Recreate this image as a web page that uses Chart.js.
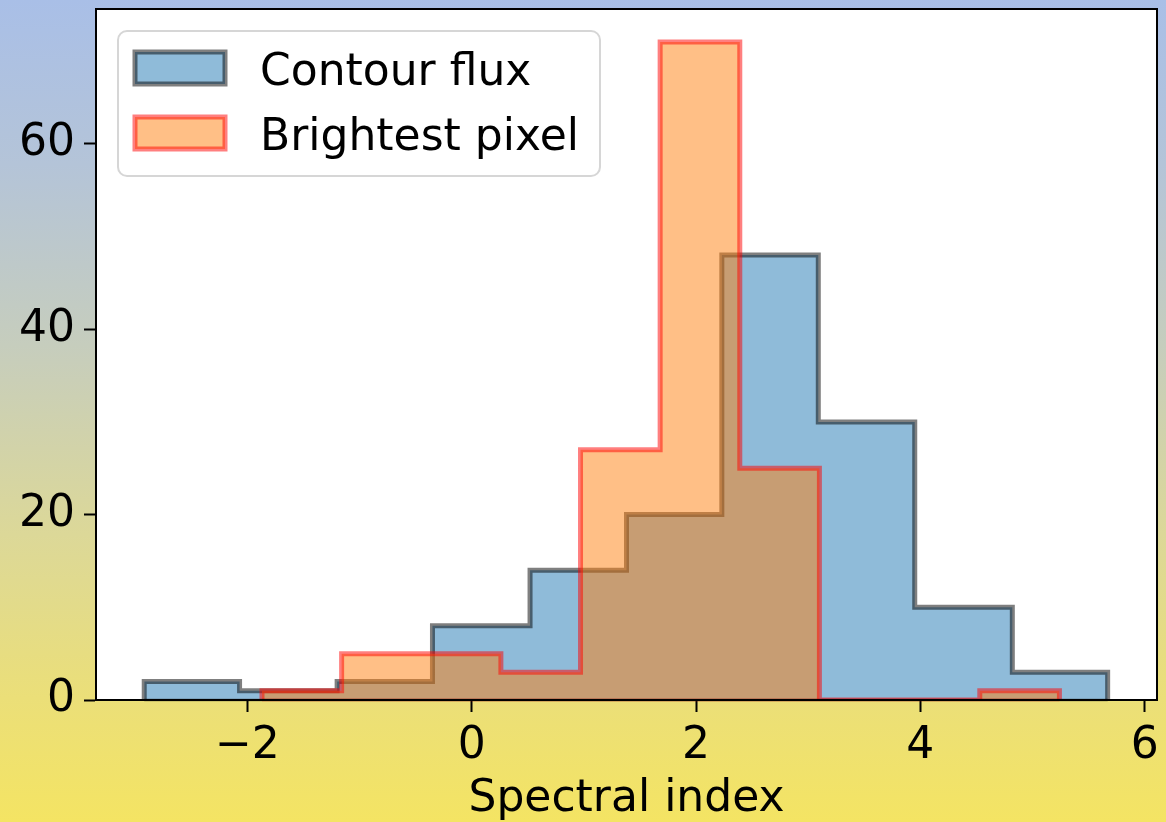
<!DOCTYPE html>
<html lang="en">
<head>
<meta charset="UTF-8">
<title>Spectral index histogram</title>
<script src="https://cdn.jsdelivr.net/npm/chart.js"></script>
<style>
  html, body { margin: 0; padding: 0; }
  body {
    width: 1166px;
    height: 822px;
    overflow: hidden;
    background: linear-gradient(to bottom, #a9bfe7 0%, #b4c4d8 20%, #c6cdbd 42%, #dcd898 65%, #ebdf78 85%, #f4e463 100%);
  }
</style>
</head>
<body>
<canvas id="histChart" width="1166" height="822"></canvas>

<script>
// bin edges and counts
const contourEdges = [-2.92, -2.07, -1.20, -0.35, 0.52, 1.38, 2.23, 3.09, 3.95, 4.82, 5.67];
const contourCounts = [2, 1, 2, 8, 14, 20, 48, 30, 10, 3];

const brightEdges = [-1.87, -1.16, -0.46, 0.26, 0.97, 1.68, 2.39, 3.10, 3.82, 4.53, 5.24];
const brightCounts = [1, 5, 5, 3, 27, 71, 25, 0, 0, 1];

const seriesLabels = ["Contour flux", "Brightest pixel"];
const xTicks = [-2, 0, 2, 4, 6];
const yTicks = [0, 20, 40, 60];
const xRange = [-3.35, 6.11];
const yRange = [0, 74.55];
const axisTitle = "Spectral index";

const FONT = "'DejaVu Sans', Verdana, sans-serif";

// outline of a stepfilled histogram
function stepOutline(edges, counts) {
    let pts = [{ x: edges[0], y: 0 }];
    counts.forEach((c, i) => {
        pts.push({ x: edges[i], y: c });
        pts.push({ x: edges[i + 1], y: c });
    });
    pts.push({ x: edges[edges.length - 1], y: 0 });
    return pts;
}

const framePlugin = {
    id: "frame",
    beforeDraw(chart) {
        const { ctx, chartArea: a } = chart;
        ctx.save();
        ctx.fillStyle = "#ffffff";
        ctx.fillRect(a.left, a.top, a.right - a.left, a.bottom - a.top);
        ctx.restore();
    },
    afterDatasetsDraw(chart) {
        const { ctx, chartArea: a } = chart;
        const x = chart.scales.x, y = chart.scales.y;
        ctx.save();

        // baseline edge of each histogram (matplotlib closes the polygon)
        chart.data.datasets.slice().reverse().forEach(ds => {
            const pts = ds.data;
            ctx.beginPath();
            ctx.moveTo(x.getPixelForValue(pts[0].x), y.getPixelForValue(0));
            ctx.lineTo(x.getPixelForValue(pts[pts.length - 1].x), y.getPixelForValue(0));
            ctx.strokeStyle = ds.borderColor;
            ctx.lineWidth = ds.borderWidth / 2;
            ctx.stroke();
        });

        ctx.strokeStyle = "#000";
        ctx.lineWidth = 2;
        ctx.strokeRect(a.left, a.top, a.right - a.left, a.bottom - a.top);

        // legend box
        const bx = 118, by = 31, bw = 482, bh = 145, r = 9;
        ctx.beginPath();
        ctx.roundRect(bx, by, bw, bh, r);
        ctx.fillStyle = "rgba(255,255,255,0.8)";
        ctx.fill();
        ctx.strokeStyle = "#d6d6d6";
        ctx.lineWidth = 2;
        ctx.stroke();

        // entries in dataset order
        const order = [1, 0];
        order.forEach((dsIndex, row) => {
            const ds = chart.data.datasets[dsIndex];
            const py = 52 + row * 65;
            ctx.fillStyle = ds.backgroundColor;
            ctx.fillRect(135, py, 90, 32);
            ctx.strokeStyle = ds.borderColor;
            ctx.lineWidth = ds.borderWidth;
            ctx.strokeRect(135, py, 90, 32);
            ctx.fillStyle = "#000";
            ctx.font = "44px " + FONT;
            ctx.textBaseline = "alphabetic";
            ctx.textAlign = "left";
            ctx.fillText(ds.label, 260, 85 + row * 65);
        });
        ctx.restore();
    }
};

const ctx = document.getElementById("histChart").getContext("2d");
new Chart(ctx, {
    type: "line",
    data: {
        datasets: [
            {
                label: seriesLabels[1],
                data: stepOutline(brightEdges, brightCounts),
                backgroundColor: "rgba(255,127,14,0.5)",
                borderColor: "rgba(255,0,0,0.5)",
                borderWidth: 5,
                fill: "origin",
                pointRadius: 0,
                tension: 0,
                order: 1
            },
            {
                label: seriesLabels[0],
                data: stepOutline(contourEdges, contourCounts),
                backgroundColor: "rgba(31,119,180,0.5)",
                borderColor: "rgba(0,0,0,0.5)",
                borderWidth: 5,
                fill: "origin",
                pointRadius: 0,
                tension: 0,
                order: 2
            }
        ]
    },
    options: {
        responsive: false,
        animation: false,
        layout: { padding: { top: 9, right: 9, left: 0, bottom: 0 } },
        plugins: {
            legend: { display: false },
            tooltip: { enabled: false }
        },
        scales: {
            x: {
                type: "linear",
                min: xRange[0],
                max: xRange[1],
                afterBuildTicks: s => { s.ticks = xTicks.map(v => ({ value: v })); },
                afterFit: s => { s.height = 122; s.paddingLeft = 0; s.paddingRight = 0; },
                ticks: {
                    autoSkip: false,
                    maxRotation: 0,
                    padding: 8,
                    color: "#000",
                    font: { family: FONT, size: 44 },
                    callback: v => (v < 0 ? "\u2212" + Math.abs(v) : String(v))
                },
                grid: { drawOnChartArea: false, tickLength: 12, tickWidth: 2, tickColor: "#000" },
                border: { display: true, color: "#000", width: 2 },
                title: {
                    display: true,
                    text: axisTitle,
                    color: "#000",
                    font: { family: FONT, size: 44, lineHeight: 1.0 },
                    padding: { top: 0, bottom: 0 }
                }
            },
            y: {
                min: yRange[0],
                max: yRange[1],
                afterBuildTicks: s => { s.ticks = yTicks.map(v => ({ value: v })); },
                afterFit: s => { s.width = 96; s.paddingTop = 0; s.paddingBottom = 0; },
                ticks: {
                    padding: 9,
                    color: "#000",
                    font: { family: FONT, size: 44 }
                },
                grid: { drawOnChartArea: false, tickLength: 12, tickWidth: 2, tickColor: "#000" },
                border: { display: true, color: "#000", width: 2 }
            }
        }
    },
    plugins: [framePlugin]
});
</script>
</body>
</html>
